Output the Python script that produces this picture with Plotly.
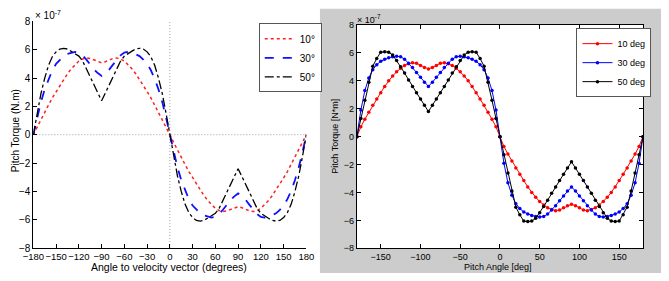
import plotly.graph_objects as go

W, H = 669, 281

angles = list(range(-180, 185, 5))

# Left panel (values in units of 1e-7 N.m)
left_10 = [0, 0.55, 1.1, 1.6, 2.1, 2.6, 3.05, 3.5, 3.9, 4.3, 4.65, 4.95, 5.2, 5.35, 5.42, 5.38, 5.28, 5.15, 5.08,
           5.15, 5.28, 5.38, 5.42, 5.35, 5.2, 4.95, 4.65, 4.3, 3.9, 3.5, 3.05, 2.6, 2.1, 1.6, 1.1, 0.55, 0,
           -0.55, -1.1, -1.6, -2.1, -2.6, -3.05, -3.5, -3.9, -4.3, -4.65, -4.95, -5.2, -5.35, -5.42, -5.38, -5.28,
           -5.15, -5.08, -5.15, -5.28, -5.38, -5.42, -5.35, -5.2, -4.95, -4.65, -4.3, -3.9, -3.5, -3.05, -2.6,
           -2.1, -1.6, -1.1, -0.55, 0]
left_30 = [0, 1.2, 2.3, 3.2, 3.95, 4.55, 5.0, 5.3, 5.55, 5.7, 5.8, 5.85, 5.8, 5.6, 5.3, 4.95, 4.6, 4.35, 4.15,
           4.35, 4.6, 4.95, 5.3, 5.6, 5.8, 5.85, 5.8, 5.7, 5.55, 5.3, 5.0, 4.55, 3.95, 3.2, 2.3, 1.2, 0,
           -1.2, -2.3, -3.2, -3.95, -4.55, -5.0, -5.3, -5.55, -5.7, -5.8, -5.85, -5.8, -5.6, -5.3, -4.95, -4.6,
           -4.35, -4.15, -4.35, -4.6, -4.95, -5.3, -5.6, -5.8, -5.85, -5.8, -5.7, -5.55, -5.3, -5.0, -4.55,
           -3.95, -3.2, -2.3, -1.2, 0]
left_50 = [0, 1.5, 2.9, 4.0, 4.9, 5.5, 5.85, 6.05, 6.1, 6.05, 5.9, 5.75, 5.55, 5.2, 4.65, 4.1, 3.5, 2.95, 2.4,
           2.95, 3.5, 4.1, 4.65, 5.2, 5.55, 5.75, 5.9, 6.05, 6.1, 6.05, 5.85, 5.5, 4.9, 4.0, 2.9, 1.5, 0,
           -1.5, -2.9, -4.0, -4.9, -5.5, -5.85, -6.05, -6.1, -6.05, -5.9, -5.75, -5.55, -5.2, -4.65, -4.1, -3.5,
           -2.95, -2.4, -2.95, -3.5, -4.1, -4.65, -5.2, -5.55, -5.75, -5.9, -6.05, -6.1, -6.05, -5.85, -5.5,
           -4.9, -4.0, -2.9, -1.5, 0]

# Right panel (values in units of 1e-7 N*m)
right_10 = [0, 0.7, 1.25, 1.75, 2.25, 2.7, 3.15, 3.6, 4.0, 4.35, 4.65, 4.9, 5.1, 5.22, 5.3, 5.25, 5.1, 4.95, 4.85,
            4.95, 5.1, 5.25, 5.3, 5.22, 5.1, 4.9, 4.65, 4.35, 4.0, 3.6, 3.15, 2.7, 2.25, 1.75, 1.25, 0.7, 0,
            -0.7, -1.25, -1.75, -2.25, -2.7, -3.15, -3.6, -4.0, -4.35, -4.65, -4.9, -5.1, -5.22, -5.3, -5.25, -5.1,
            -4.95, -4.85, -4.95, -5.1, -5.25, -5.3, -5.22, -5.1, -4.9, -4.65, -4.35, -4.0, -3.6, -3.15, -2.7,
            -2.25, -1.75, -1.25, -0.7, 0]
right_30 = [0, 1.9, 3.3, 4.2, 4.8, 5.15, 5.4, 5.55, 5.65, 5.72, 5.75, 5.72, 5.55, 5.25, 4.95, 4.6, 4.25, 3.9, 3.6,
            3.9, 4.25, 4.6, 4.95, 5.25, 5.55, 5.72, 5.75, 5.72, 5.65, 5.55, 5.4, 5.15, 4.8, 4.2, 3.3, 1.9, 0,
            -1.9, -3.3, -4.2, -4.8, -5.15, -5.4, -5.55, -5.65, -5.72, -5.75, -5.72, -5.55, -5.25, -4.95, -4.6, -4.25,
            -3.9, -3.6, -3.9, -4.25, -4.6, -4.95, -5.25, -5.55, -5.72, -5.75, -5.72, -5.65, -5.55, -5.4, -5.15,
            -4.8, -4.2, -3.3, -1.9, 0]
right_50 = [0, 1.3, 2.6, 3.9, 5.05, 5.6, 6.05, 6.08, 6.05, 5.85, 5.45, 5.0, 4.55, 4.05, 3.6, 3.15, 2.7, 2.25, 1.8,
            2.25, 2.7, 3.15, 3.6, 4.05, 4.55, 5.0, 5.45, 5.85, 6.05, 6.08, 6.05, 5.6, 5.05, 3.9, 2.6, 1.3, 0,
            -1.3, -2.6, -3.9, -5.05, -5.6, -6.05, -6.08, -6.05, -5.85, -5.45, -5.0, -4.55, -4.05, -3.6, -3.15, -2.7,
            -2.25, -1.8, -2.25, -2.7, -3.15, -3.6, -4.05, -4.55, -5.0, -5.45, -5.85, -6.05, -6.08, -6.05, -5.6,
            -5.05, -3.9, -2.6, -1.3, 0]

left_names = ["10°", "30°", "50°"]
right_names = ["10 deg", "30 deg", "50 deg"]
left_ticks = list(range(-180, 181, 30))
right_ticks = [-150, -100, -50, 0, 50, 100, 150]
y_ticks = [-8, -6, -4, -2, 0, 2, 4, 6, 8]

FONT = "Liberation Sans, Arial, sans-serif"

def px_x(p):
    return p / W

def px_y(p):
    return (H - p) / H

fig = go.Figure()

left_styles = [("#ff2020", "dot", 1.5), ("#1010ff", "dash", 1.8), ("black", "dashdot", 1.3)]
for vals, name, (c, d, w) in zip([left_10, left_30, left_50], left_names, left_styles):
    fig.add_trace(go.Scatter(x=angles, y=vals, name=name, mode="lines",
                             line=dict(color=c, dash=d, width=w),
                             xaxis="x", yaxis="y", legend="legend"))

right_colors = ["#ff0000", "#0000ff", "#000000"]
for vals, name, c in zip([right_10, right_30, right_50], right_names, right_colors):
    fig.add_trace(go.Scatter(x=angles, y=vals, name=name, mode="lines+markers",
                             line=dict(color=c, width=1),
                             marker=dict(color=c, size=3.5, symbol="circle"),
                             xaxis="x2", yaxis="y2", legend="legend2"))

common_axis = dict(showgrid=False, zeroline=False, showline=True, linecolor="black", linewidth=1,
                   ticks="inside", ticklen=4, tickcolor="black", tickangle=0)

fig.update_layout(
    width=W, height=H,
    margin=dict(l=0, r=0, t=0, b=0),
    paper_bgcolor="white",
    plot_bgcolor="rgba(0,0,0,0)",
    font=dict(family=FONT, color="black", size=10),
    xaxis=dict(domain=[px_x(23), px_x(304)], range=[-180, 180], tickvals=left_ticks,
               tickfont=dict(size=9.5), anchor="y", **common_axis),
    yaxis=dict(domain=[px_y(252), px_y(17)], range=[-8, 8], tickvals=y_ticks,
               tickfont=dict(size=10), anchor="x", **common_axis),
    xaxis2=dict(domain=[px_x(356), px_x(650.5)], range=[-180, 180], tickvals=right_ticks,
                tickfont=dict(size=9), anchor="y2", mirror="ticks", **common_axis),
    yaxis2=dict(domain=[px_y(252.3), px_y(20.7)], range=[-8, 8], tickvals=y_ticks,
                tickfont=dict(size=9), anchor="x2", mirror="ticks", **common_axis),
    legend=dict(x=px_x(255), y=px_y(19), xanchor="left", yanchor="top",
                bgcolor="white", bordercolor="#555555", borderwidth=1,
                font=dict(size=10), itemwidth=30, tracegroupgap=0),
    legend2=dict(x=px_x(582), y=px_y(24), xanchor="left", yanchor="top",
                 bgcolor="white", bordercolor="#555555", borderwidth=1,
                 font=dict(size=9), itemwidth=30, tracegroupgap=0),
    showlegend=True,
)

shapes = [
    # grey figure background of right panel
    dict(type="rect", xref="paper", yref="paper", x0=px_x(318), x1=1, y0=px_y(278), y1=px_y(4),
         fillcolor="#cccccc", line=dict(width=0), layer="below"),
    # white axes area of right panel
    dict(type="rect", xref="x2 domain", yref="y2 domain", x0=0, x1=1, y0=0, y1=1,
         fillcolor="white", line=dict(width=0), layer="below"),
    # dotted zero lines on left panel
    dict(type="line", xref="x", yref="y domain", x0=0, x1=0, y0=0, y1=1,
         line=dict(color="#a0a0a0", width=1, dash="1px,2px"), layer="below"),
    dict(type="line", xref="x domain", yref="y", x0=0, x1=1, y0=0, y1=0,
         line=dict(color="#a0a0a0", width=1, dash="1px,2px"), layer="below"),
]
fig.update_layout(shapes=shapes)

annotations = [
    dict(text="× 10<sup>-7</sup>", x=px_x(23), y=px_y(10), xref="paper", yref="paper",
         xanchor="left", yanchor="middle", showarrow=False, font=dict(size=10)),
    dict(text="× 10<sup>-7</sup>", x=px_x(354), y=px_y(14), xref="paper", yref="paper",
         xanchor="left", yanchor="middle", showarrow=False, font=dict(size=9)),
    dict(text="Pitch Torque (N.m)", x=px_x(5), y=px_y(130), xref="paper", yref="paper",
         xanchor="center", yanchor="middle", textangle=-90, showarrow=False, font=dict(size=10)),
    dict(text="Pitch Torque [N*m]", x=px_x(334), y=px_y(136), xref="paper", yref="paper",
         xanchor="center", yanchor="middle", textangle=-90, showarrow=False, font=dict(size=9)),
    dict(text="Angle to velocity vector (degrees)", x=px_x(163), y=px_y(272), xref="paper", yref="paper",
         xanchor="center", yanchor="middle", showarrow=False, font=dict(size=10.5)),
    dict(text="Pitch Angle [deg]", x=px_x(501), y=px_y(272), xref="paper", yref="paper",
         xanchor="center", yanchor="middle", showarrow=False, font=dict(size=9)),
]
fig.update_layout(annotations=annotations)

fig.write_html("out.html")
